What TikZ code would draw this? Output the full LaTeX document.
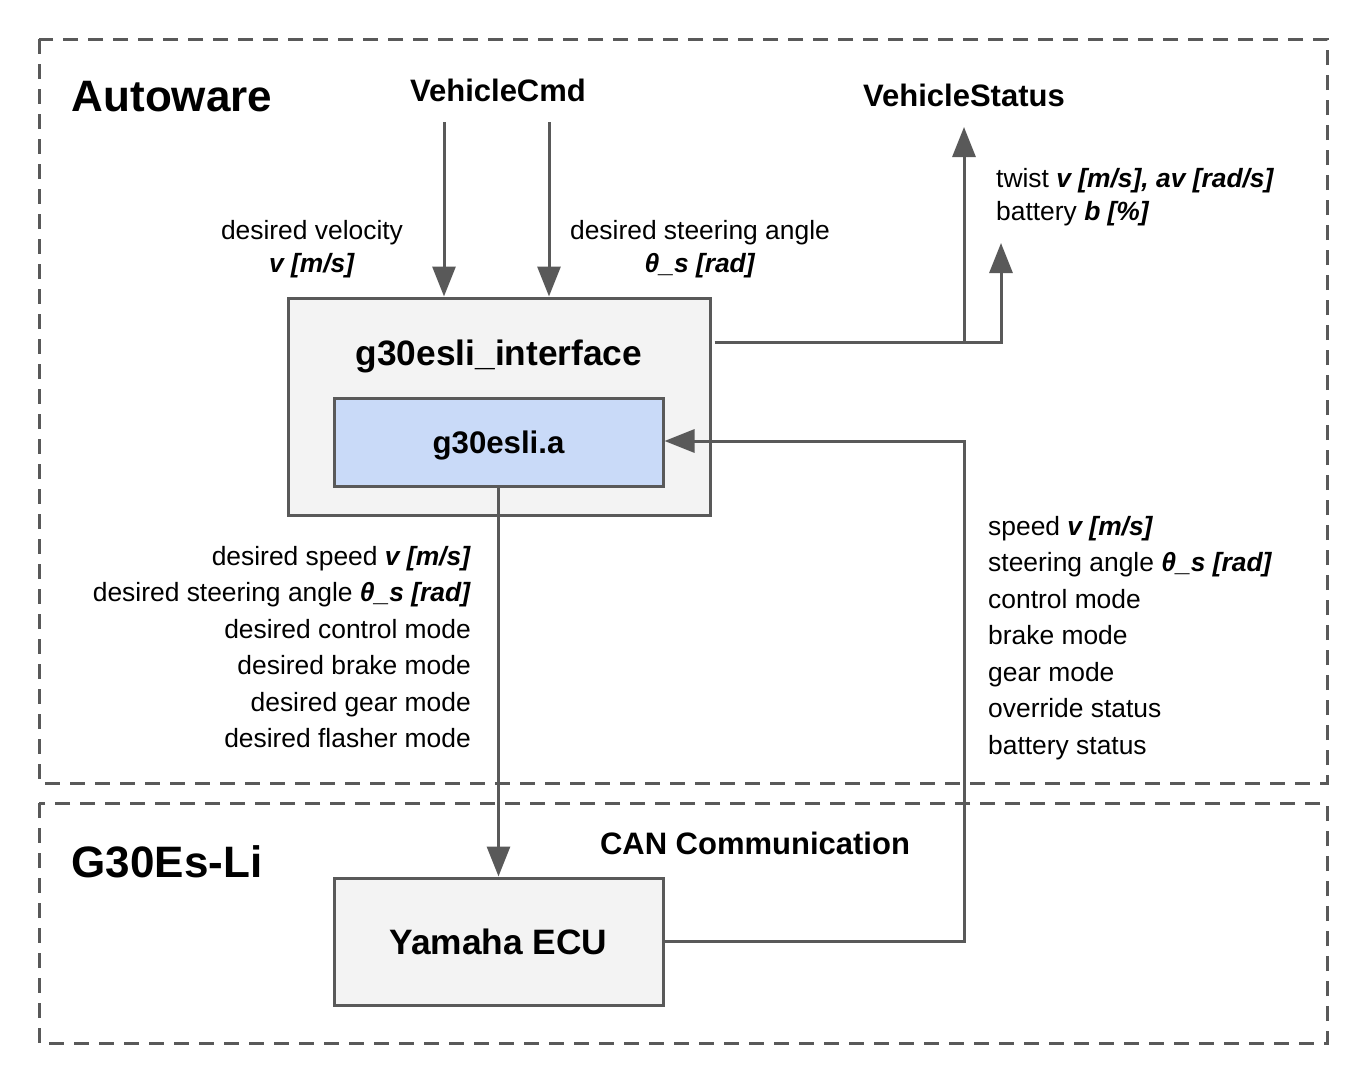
\documentclass[tikz,border=0pt]{standalone}
\usepackage{fontspec}
\setmainfont{Liberation Sans}
\usetikzlibrary{arrows.meta,calc}
\definecolor{lg}{HTML}{595959}
\definecolor{boxfill}{HTML}{F3F3F3}
\definecolor{bluefill}{HTML}{C9DAF8}
\tikzset{
  group/.style={draw=lg, line width=3pt, dash pattern=on 15pt off 10pt},
  blk/.style={draw=lg, line width=3pt, fill=boxfill, inner sep=0pt},
  conn/.style={draw=lg, line width=3pt},
  arr/.style={conn, -{Triangle[width=23pt,length=30pt]}},
  lbl/.style={font=\fontsize{26.4}{33}\selectfont, inner sep=0pt},
  lst/.style={font=\fontsize{26.4}{36.5}\selectfont, inner sep=0pt},
  bigttl/.style={font=\fontsize{44}{50}\selectfont\bfseries, inner sep=0pt},
  ttl/.style={font=\fontsize{31}{36}\selectfont\bfseries, inner sep=0pt},
}
\newcommand{\bi}[1]{\textbf{\textit{#1}}}
\begin{document}
\begin{tikzpicture}[x=1pt,y=-1pt]
\useasboundingbox (0,0) rectangle (1363,1076);
% groups
\draw[group] (39,39) rectangle (1327,783);
\draw[group] (39,803) rectangle (1327,1043);
% titles
\node[bigttl] (autoware) at (172,97) {Autoware};
\node[bigttl] (g30) at (167,862) {G30Es-Li};
\node[ttl] (vcmd) at (498,90) {VehicleCmd};
\node[ttl] (vstat) at (964,95) {VehicleStatus};
\node[ttl] (can) at (755,843) {CAN Communication};
% boxes
\node[blk, minimum width=422pt, minimum height=217pt] (iface) at (499,406.5) {};
\node[font=\fontsize{35.3}{40}\selectfont\bfseries, inner sep=0pt] (ifacettl) at (499,356) {g30esli\_interface};
\node[blk, fill=bluefill, minimum width=329pt, minimum height=88pt, text depth=0pt, font=\fontsize{31.2}{36}\selectfont\bfseries] (ga) at (498.5,442) {g30esli.a};
\node[blk, minimum width=329pt, minimum height=127pt, font=\fontsize{35.3}{40}\selectfont\bfseries] (ecu) at (498.5,941.5) {Yamaha ECU};
% labels
\node[lbl, align=center] (dv) at (312,249.5) {desired velocity\\\bi{v [m/s]}};
\node[lbl, align=center] (ds) at (700,249.5) {desired steering angle\\\bi{θ\_s [rad]}};
\node[lbl, align=left, anchor=west] (tw) at (996,197.5) {twist \bi{v [m/s], av [rad/s]}\\battery \bi{b [\%]}};
\node[lst, align=right, anchor=east] (cmdlist) at (471,647) {desired speed \bi{v [m/s]}\\desired steering angle \bi{θ\_s [rad]}\\desired control mode\\desired brake mode\\desired gear mode\\desired flasher mode};
\node[lst, align=left, anchor=west] (statlist) at (988,638) {speed \bi{v [m/s]}\\steering angle \bi{θ\_s [rad]}\\control mode\\brake mode\\gear mode\\override status\\battery status};
% coordinates
\coordinate (c1) at (444,122);
\coordinate (c2) at (549,122);
\coordinate (j1) at (964,342);
\coordinate (j2) at (1001,342);
\coordinate (t2) at (1001,243);
\coordinate (vsin) at (964,127);
\coordinate (r1) at (964,441);
% connectors
\draw[arr] (c1) -- (iface.north -| c1);
\draw[arr] (c2) -- (iface.north -| c2);
\draw[arr] (j1) -- (vsin);
\draw[arr] ($(iface.east |- j1)+(3,0)$) -- (j2) -- (t2);
\draw[arr] (ga.south) -- (ecu.north);
\draw[arr] (ecu.east) -- (ecu.east -| r1) -- (r1) -- (ga.east |- r1);
\end{tikzpicture}
\end{document}
